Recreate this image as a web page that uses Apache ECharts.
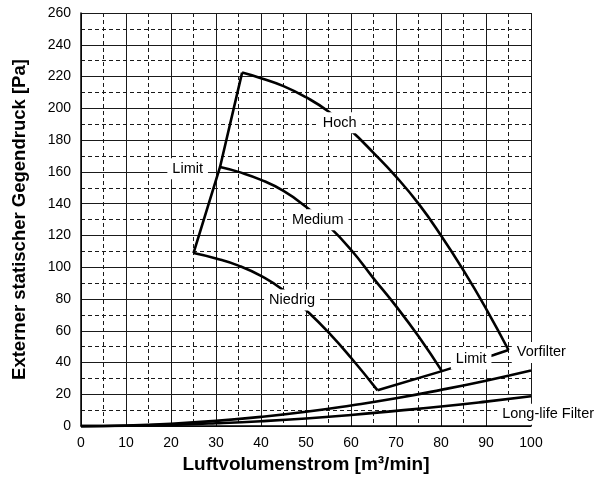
<!DOCTYPE html>
<html>
<head>
<meta charset="utf-8">
<script src="https://cdn.jsdelivr.net/npm/echarts@6/dist/echarts.min.js"></script>
<style>
  html, body { margin: 0; padding: 0; background: #fff; }
  #chart { width: 596px; height: 479px; }
</style>
</head>
<body>
<div id="chart"></div>
<script>
// Fan curves: [airflow m³/min, external static pressure Pa]
const hoch = [[35.8,222.5],[40,219],[45,214],[50,207],[55,198],[60,186],[65,172],[70,157],[75,140],[80,120],[85,98],[90,74],[95,47.9]];
const medium = [[30.9,163.1],[35,160],[40,155],[45,148],[50,138],[55,126],[60,111],[65,93],[70,75.5],[75,56.5],[80.2,34.6]];
const niedrig = [[25,108.9],[30,105.5],[35,101],[40,94.5],[45,85.5],[50,73],[55,59],[60,43],[65.9,22.5]];

// Operating limits
const limitLeft = [[25,108.9],[30.9,163.1],[35.8,222.5]];
const limitRight = [[65.9,22.5],[80.2,34.6],[91.7,44.8],[95,47.9]];

// Filter resistance curves
const vorfilter = [[0,0],[10,0.4],[20,1.5],[30,3.3],[40,5.8],[50,9],[60,13],[70,17.5],[80,22.8],[90,28.6],[100,35]];
const longLife = [[0,0],[10,0.2],[20,0.8],[30,1.8],[40,3.1],[50,4.8],[60,7],[70,9.6],[80,12.3],[90,15.4],[100,18.8]];

// Curve annotations: [x, y, text]
const annotations = [
  [23.7, 162, 'Limit'],
  [57.5, 191, 'Hoch'],
  [52.6, 129.8, 'Medium'],
  [46.9, 79.4, 'Niedrig'],
  [86.7, 42.3, 'Limit'],
  [102.3, 46.4, 'Vorfilter'],
  [103.8, 7.5, 'Long-life Filter']
];

const xTitle = 'Luftvolumenstrom [m³/min]';
const yTitle = 'Externer statischer Gegendruck [Pa]';

const FONT = '"Liberation Sans", Arial, sans-serif';

function curve(data, smooth) {
  return {
    type: 'line',
    data: data,
    smooth: smooth,
    showSymbol: false,
    symbol: 'none',
    clip: false,
    lineStyle: { color: '#000', width: 2.6 },
    z: 3,
    silent: true
  };
}

const chart = echarts.init(document.getElementById('chart'), null, { renderer: 'canvas' });

const gridLine = { show: true, lineStyle: { color: '#1a1a1a', width: 1, type: 'solid' } };
const minorLine = { show: true, lineStyle: { color: '#1a1a1a', width: 1, type: [4, 3] } };

chart.setOption({
  animation: false,
  backgroundColor: '#fff',
  grid: { left: 81, right: 65, top: 13, bottom: 49, containLabel: false },
  xAxis: {
    type: 'value',
    min: 0, max: 100, interval: 10,
    name: xTitle,
    nameLocation: 'middle',
    nameGap: 24,
    nameTextStyle: { fontFamily: FONT, fontWeight: 'bold', fontSize: 19, color: '#000' },
    axisLine: { show: true, lineStyle: { color: '#000', width: 1.5 } },
    axisTick: { show: false },
    axisLabel: { fontFamily: FONT, fontSize: 14, color: '#000', margin: 10 },
    splitLine: gridLine,
    minorTick: { show: false, splitNumber: 2 },
    minorSplitLine: minorLine
  },
  yAxis: {
    type: 'value',
    min: 0, max: 260, interval: 20,
    name: yTitle,
    nameLocation: 'middle',
    nameGap: 52,
    nameTextStyle: { fontFamily: FONT, fontWeight: 'bold', fontSize: 18.5, color: '#000' },
    axisLine: { show: true, lineStyle: { color: '#000', width: 1.5 } },
    axisTick: { show: false },
    axisLabel: { fontFamily: FONT, fontSize: 14, color: '#000', margin: 10 },
    splitLine: gridLine,
    minorTick: { show: false, splitNumber: 2 },
    minorSplitLine: minorLine
  },
  series: [
    curve(hoch, 0.5),
    curve(medium, 0.5),
    curve(niedrig, 0.5),
    curve(limitLeft, false),
    curve(limitRight, false),
    curve(vorfilter, 0.5),
    curve(longLife, 0.5),
    {
      type: 'scatter',
      data: annotations,
      symbolSize: 0,
      clip: false,
      z: 10,
      silent: true,
      itemStyle: { opacity: 1 },
      label: {
        show: true,
        position: 'inside',
        formatter: p => p.data[2],
        fontFamily: FONT,
        fontSize: 14.5,
        color: '#000',
        opacity: 1,
        backgroundColor: '#fff',
        padding: [3, 5]
      }
    }
  ]
});
</script>
</body>
</html>
